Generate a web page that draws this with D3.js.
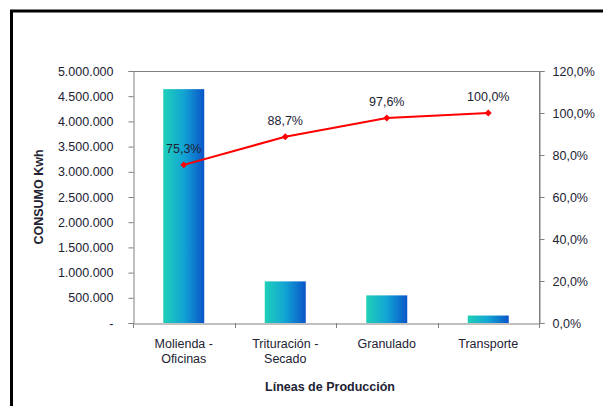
<!DOCTYPE html>
<html><head><meta charset="utf-8">
<script src="https://cdn.jsdelivr.net/npm/d3@7"></script>
<style>body{margin:0;background:#fff}svg{display:block}text{font-family:"Liberation Sans",Arial,sans-serif}</style>
</head><body><svg id="c" width="603" height="406"></svg>
<script>
const categories = [["Molienda -","Oficinas"],["Trituración  -","Secado"],["Granulado"],["Transporte"]];
const consumo = [4640000, 826000, 548000, 148000];
const acumulado = [75.3, 88.7, 97.6, 100.0];
const leftTicks = [0,500000,1000000,1500000,2000000,2500000,3000000,3500000,4000000,4500000,5000000];
const rightTicks = [0,20,40,60,80,100,120];

const svg = d3.select("#c");
const m = {l:133, r:539, t:71, b:323};
const txt = "#222233";

svg.append("rect").attr("x",11.5).attr("y",11).attr("width",620).attr("height",420)
  .attr("fill","none").attr("stroke","#000").attr("stroke-width",3);

const defs = svg.append("defs");
const g = defs.append("linearGradient").attr("id","bg").attr("x1","0").attr("x2","1").attr("y1","0").attr("y2","0");
g.append("stop").attr("offset","0%").attr("stop-color","#1fd0b8");
g.append("stop").attr("offset","50%").attr("stop-color","#12a4d4");
g.append("stop").attr("offset","100%").attr("stop-color","#0a55c8");

const x = d3.scaleBand().domain(d3.range(categories.length)).range([m.l,m.r]).paddingInner(0.6).paddingOuter(0.3);
const xb = d3.scaleBand().domain(d3.range(categories.length)).range([m.l,m.r]);
const y = d3.scaleLinear().domain([0,5000000]).range([m.b,m.t]);
const y2 = d3.scaleLinear().domain([0,120]).range([m.b,m.t]);

// plot frame
svg.append("line").attr("x1",m.l).attr("x2",m.r).attr("y1",m.t+0.5).attr("y2",m.t+0.5).attr("stroke","#808080");
svg.append("line").attr("x1",m.r+0.5).attr("x2",m.r+0.5).attr("y1",m.t).attr("y2",m.b).attr("stroke","#808080");

// bars
svg.selectAll("rect.bar").data(consumo).join("rect").attr("class","bar")
  .attr("x",(d,i)=>xb(i)+xb.bandwidth()/2-20.5).attr("width",41)
  .attr("y",d=>y(d)).attr("height",d=>m.b-y(d)).attr("fill","url(#bg)");

// left axis
const fmt = d => d===0 ? "-" : d3.format(",")(d).replace(/,/g,".");
const la = svg.append("g").attr("transform",`translate(${m.l+0.5},0)`)
  .call(d3.axisLeft(y).tickValues(leftTicks).tickFormat(fmt).tickSize(5).tickPadding(15));
la.select(".domain").attr("stroke","#808080");
la.selectAll(".tick line").attr("stroke","#808080");
la.selectAll("text").attr("font-size","12.5px").attr("fill",txt);

// right axis
const ra = svg.append("g").attr("transform",`translate(${m.r+0.5},0)`)
  .call(d3.axisRight(y2).tickValues(rightTicks).tickFormat(d=>d3.format(".1f")(d).replace(".",",")+"%").tickSize(5).tickPadding(8));
ra.select(".domain").attr("stroke","#808080");
ra.selectAll(".tick line").attr("stroke","#808080");
ra.selectAll("text").attr("font-size","12.5px").attr("fill",txt);

// bottom axis
const ba = svg.append("g").attr("transform",`translate(0,${m.b+0.5})`)
  .call(d3.axisBottom(xb).tickSize(0).tickFormat(""));
ba.select(".domain").attr("stroke","#808080");
const bounds = d3.range(categories.length+1).map(i=>m.l + i*xb.step());
svg.selectAll("line.xt").data(bounds).join("line").attr("class","xt")
  .attr("x1",d=>Math.round(d)+0.5).attr("x2",d=>Math.round(d)+0.5).attr("y1",m.b).attr("y2",m.b+5).attr("stroke","#808080");

// category labels
categories.forEach((c,i)=>{
  const t = svg.append("text").attr("x",xb(i)+xb.bandwidth()/2).attr("y",348).attr("text-anchor","middle")
    .attr("font-size","12.5px").attr("fill",txt);
  c.forEach((s,j)=>t.append("tspan").attr("x",xb(i)+xb.bandwidth()/2).attr("dy",j?15:0).text(s));
});

// line
const cx = i => xb(i)+xb.bandwidth()/2;
svg.append("path").datum(acumulado).attr("fill","none").attr("stroke","#ff0000").attr("stroke-width",2)
  .attr("d",d3.line().x((d,i)=>cx(i)).y(d=>y2(d)));
svg.selectAll("path.mk").data(acumulado).join("path").attr("class","mk")
  .attr("transform",(d,i)=>`translate(${cx(i)},${y2(d)})`)
  .attr("d",d3.symbol(d3.symbolDiamond2,30)).attr("fill","#ff0000");
svg.selectAll("text.dl").data(acumulado).join("text").attr("class","dl")
  .attr("x",(d,i)=>cx(i)).attr("y",d=>y2(d)-12).attr("text-anchor","middle")
  .attr("font-size","12.5px").attr("fill",txt).text(d=>d3.format(".1f")(d).replace(".",",")+"%");

// axis titles
svg.append("text").attr("transform","translate(43,197) rotate(-90)").attr("text-anchor","middle")
  .attr("font-size","12.5px").attr("font-weight","bold").attr("fill",txt).text("CONSUMO Kwh");
svg.append("text").attr("x",330).attr("y",391).attr("text-anchor","middle")
  .attr("font-size","12.5px").attr("font-weight","bold").attr("fill",txt).text("Líneas de Producción");
</script></body></html>
